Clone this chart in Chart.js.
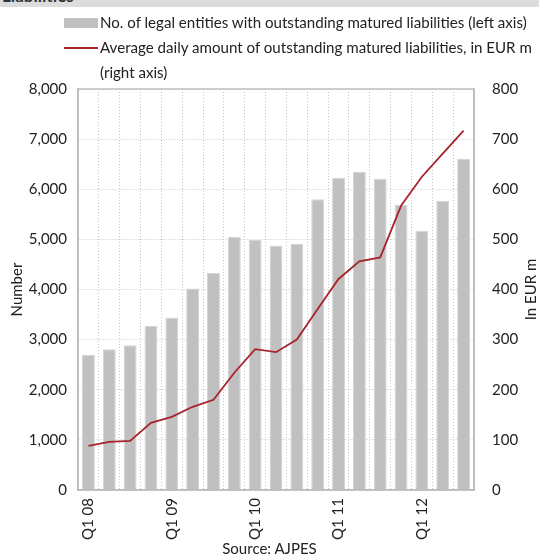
<!DOCTYPE html>
<html>
<head>
<meta charset="utf-8">
<script src="https://cdn.jsdelivr.net/npm/chart.js@4"></script>
<style>
  html, body { margin: 0; padding: 0; background: #fff; }
  body { width: 539px; height: 559px; position: relative; overflow: hidden; font-family: Lato, sans-serif; color: #222; }
  #band { position: absolute; left: 0; top: 0; width: 539px; height: 7px; background: #dcdcdc; overflow: hidden; }
  #band span { position: absolute; left: 2px; top: -15px; font-weight: bold; font-size: 17px; color: #333; }
  #legend { position: absolute; left: 64px; top: 10px; font-size: 15.1px; line-height: 25px; }
  .row { position: relative; padding-left: 36px; white-space: nowrap; }
  .swatch { position: absolute; left: 0; top: 8px; width: 34px; height: 10px; background: #c0c0c0; }
  .stroke { position: absolute; left: 0; top: 12px; width: 34px; height: 2px; background: #a8232a; }
  #source { position: absolute; left: 0; width: 539px; top: 539px; text-align: center; font-size: 15px; }
  #wrap { position: absolute; left: 0; top: 0; width: 539px; height: 559px; }
</style>
</head>
<body>
<div id="band"><span>Liabilities</span></div>
<div id="wrap"><canvas id="chart"></canvas></div>
<div id="legend">
  <div class="row"><span class="swatch"></span>No. of legal entities with outstanding matured liabilities (left axis)</div>
  <div class="row"><span class="stroke"></span>Average daily amount of outstanding matured liabilities, in EUR m</div>
  <div class="row">(right axis)</div>
</div>
<div id="source">Source: AJPES</div>
<script>
// Quarters Q1 2008 - Q3 2012
const quarters = ['Q1 08', 'Q2 08', 'Q3 08', 'Q4 08',
                  'Q1 09', 'Q2 09', 'Q3 09', 'Q4 09',
                  'Q1 10', 'Q2 10', 'Q3 10', 'Q4 10',
                  'Q1 11', 'Q2 11', 'Q3 11', 'Q4 11',
                  'Q1 12', 'Q2 12', 'Q3 12'];

// No. of legal entities (left axis)
const entities = [2700, 2810, 2890, 3270, 3440, 4020, 4330, 5050, 4990, 4880,
                  4910, 5800, 6230, 6350, 6210, 5690, 5170, 5770, 6610];

// Average daily amount, EUR m (right axis)
const amounts = [88, 96, 98, 134, 146, 166, 180, 234, 281, 275,
                 300, 361, 421, 456, 464, 567, 625, 671, 717];

const tickFont = { family: 'Lato', size: 15 };
const gridColor = '#c4c4c4';
const frameColor = '#bdbdbd';

// frame round the plot area and the right-hand axis title
const framePlugin = {
    id: 'frame',
    afterDatasetsDraw(chart) {
        const { ctx, chartArea: a } = chart;
        ctx.save();
        ctx.strokeStyle = frameColor;
        ctx.lineWidth = 1.5;
        ctx.strokeRect(a.left, a.top, a.right - a.left, a.bottom - a.top);
        ctx.restore();
    },
    afterDraw(chart) {
        const { ctx, chartArea: a } = chart;
        ctx.save();
        ctx.translate(531, (a.top + a.bottom) / 2);
        ctx.rotate(-Math.PI / 2);
        ctx.font = '15px Lato';
        ctx.fillStyle = '#222';
        ctx.textAlign = 'center';
        ctx.textBaseline = 'middle';
        ctx.fillText('In EUR m', 0, 0);
        ctx.restore();
    }
};

new Chart(document.getElementById('chart'), {
    data: {
        labels: quarters,
        datasets: [{
            type: 'line',
            data: amounts,
            yAxisID: 'y1',
            borderColor: '#a8232a',
            borderWidth: 1.8,
            pointRadius: 0,
            tension: 0,
            order: 0
        }, {
            type: 'bar',
            data: entities,
            yAxisID: 'y',
            backgroundColor: '#c0c0c0',
            borderColor: '#d4d4d4',
            borderWidth: 1,
            barPercentage: 0.62,
            categoryPercentage: 1,
            order: 1
        }]
    },
    options: {
        responsive: true,
        maintainAspectRatio: false,
        animation: false,
        layout: { padding: { top: 89, left: 0, right: 0, bottom: 0 } },
        plugins: { legend: { display: false }, tooltip: { enabled: false } },
        scales: {
            x: {
                grid: { color: gridColor, drawTicks: false },
                border: { display: true, color: frameColor, width: 1.5, dash: [1, 2] },
                ticks: {
                    autoSkip: false, maxRotation: 90, minRotation: 90,
                    padding: 8, color: '#222', font: tickFont,
                    callback: function (v, i) { return quarters[i].startsWith('Q1') ? quarters[i] : ''; }
                },
                afterFit: s => { s.height = 69; }
            },
            y: {
                position: 'left',
                min: 0, max: 8000,
                ticks: {
                    stepSize: 1000, padding: 11, color: '#222', font: tickFont,
                    callback: v => v.toLocaleString('en-US')
                },
                grid: { color: gridColor, drawTicks: false },
                border: { color: frameColor, width: 1.5, dash: [1, 2] },
                title: { display: true, text: 'Number', color: '#222', font: tickFont, padding: { top: 8, bottom: 0 } },
                afterFit: s => { s.width = 78; }
            },
            y1: {
                position: 'right',
                min: 0, max: 800,
                ticks: { stepSize: 100, padding: 18, color: '#222', font: tickFont },
                grid: { display: false, drawTicks: false },
                border: { color: frameColor, width: 1.5 },
                afterFit: s => { s.width = 65; }
            }
        }
    },
    plugins: [framePlugin]
});
</script>
</body>
</html>
